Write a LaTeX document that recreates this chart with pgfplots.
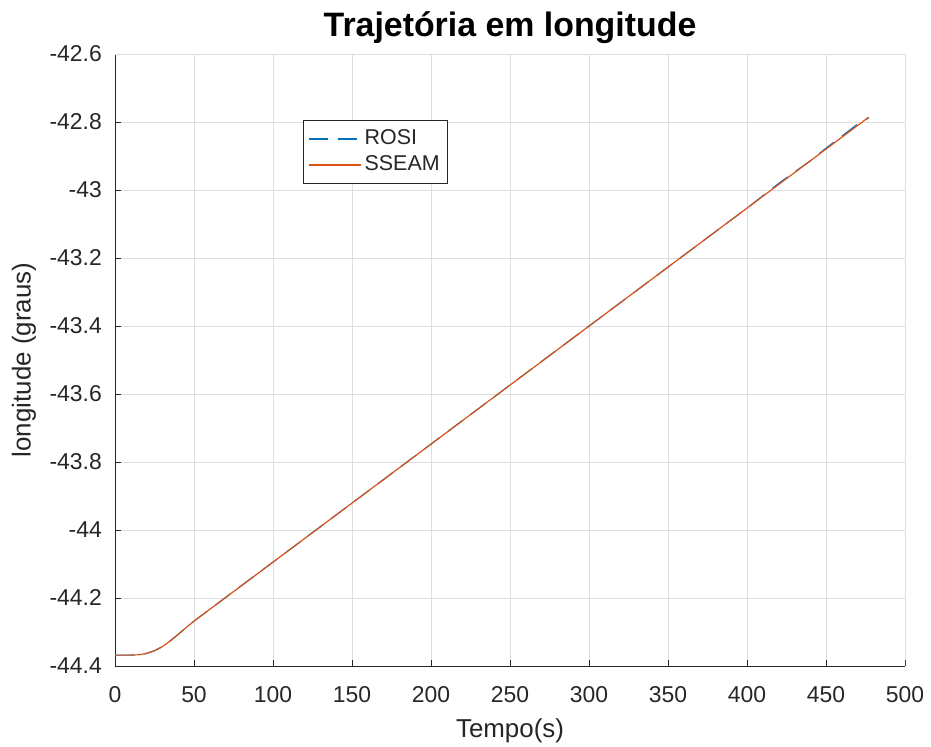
\documentclass[border=0pt]{standalone}
\usepackage{pgfplots}
\pgfplotsset{compat=1.18}
\usepackage{fontspec}
\setmainfont{Liberation Sans}

\definecolor{mblue}{rgb}{0,0.447,0.741}
\definecolor{morange}{rgb}{0.85,0.325,0.098}
\definecolor{gridgray}{rgb}{0.87,0.87,0.87}
\definecolor{axgray}{rgb}{0.15,0.15,0.15}

% Trajectory in longitude: ROSI vs SSEAM
\pgfplotstableread{
t      lon
0      -44.368
10     -44.368
15     -44.367
20     -44.363
25     -44.355
30     -44.343
35     -44.326
40     -44.307
45     -44.287
50     -44.268
100    -44.0945
150    -43.9209
200    -43.7474
250    -43.5739
300    -43.4003
350    -43.2268
400    -43.0533
430    -42.9492
450    -42.8797
465    -42.8277
477    -42.7860
}\sseam

\pgfplotstableread{
t      lon
0      -44.368
10     -44.368
15     -44.367
20     -44.363
25     -44.355
30     -44.343
35     -44.326
40     -44.307
45     -44.287
50     -44.268
100    -44.0945
150    -43.9209
200    -43.7474
250    -43.5739
300    -43.4003
350    -43.2268
400    -43.0533
420    -42.9810
430    -42.9470
440    -42.9150
450    -42.8770
460    -42.8420
470    -42.8060
477    -42.7880
}\rosi

\begin{document}
\begin{tikzpicture}[x=1bp,y=1bp]
\begin{axis}[
  at={(115bp,81bp)}, anchor=south west,
  scale only axis,
  width=790bp, height=612bp,
  xmin=0, xmax=500, ymin=-44.4, ymax=-42.6,
  xtick={0,50,...,500},
  ytick={-44.4,-44.2,-44,-43.8,-43.6,-43.4,-43.2,-43,-42.8,-42.6},
  yticklabels={-44.4,-44.2,-44,-43.8,-43.6,-43.4,-43.2,-43,-42.8,-42.6},
  xticklabels={0,50,100,150,200,250,300,350,400,450,500},
  axis x line*=bottom, axis y line*=left,
  axis line style={axgray, line width=0.9pt, -},
  tick align=inside,
  major tick length=6bp,
  tick style={axgray, line width=0.9pt},
  grid=major,
  major grid style={gridgray, line width=0.7pt},
  ticklabel style={font=\fontsize{23}{27}\selectfont, text=axgray, inner sep=0pt},
  xticklabel style={anchor=base, yshift=-37bp},
  yticklabel style={anchor=east, xshift=-13bp},
  xlabel={Tempo(s)},
  ylabel={longitude (graus)},
  xlabel style={font=\fontsize{26}{30}\selectfont, text=axgray,
    at={(axis description cs:0.5,-0.1176)}, anchor=base, inner sep=0pt},
  ylabel style={font=\fontsize{26}{30}\selectfont, text=axgray,
    at={(axis description cs:-0.1152,0.5)}, anchor=center, inner sep=0pt},
  title={\bfseries Trajetória em longitude},
  title style={font=\fontsize{34}{38}\selectfont, at={(0.5,1)}, anchor=base,
    yshift=12bp, inner sep=0pt},
  legend style={at={(0.2380,0.8922)}, anchor=north west,
    font=\fontsize{21.5}{25}\selectfont, draw=black!85, line width=0.9pt,
    inner xsep=5bp, inner ysep=6bp, row sep=1bp, text=axgray,
    nodes={inner sep=3bp, text height=15bp, text depth=4bp},
    /tikz/every even column/.append style={column sep=12bp}},
  legend cell align=left,
  legend image code/.code={\draw[#1] (0bp,0bp) -- (52bp,0bp);},
]
\addplot[mblue, dash pattern=on 19bp off 10bp, line width=1.2pt] table[x=t,y=lon] {\rosi};
\addlegendentry{ROSI}
\addplot[morange, line width=1.2pt] table[x=t,y=lon] {\sseam};
\addlegendentry{SSEAM}
\draw[gridgray, line width=0.9pt] (rel axis cs:0,1) -- (rel axis cs:1,1) -- (rel axis cs:1,0);
\end{axis}
\pgfresetboundingbox
\useasboundingbox (0,0) rectangle (931,747);
\end{tikzpicture}
\end{document}
